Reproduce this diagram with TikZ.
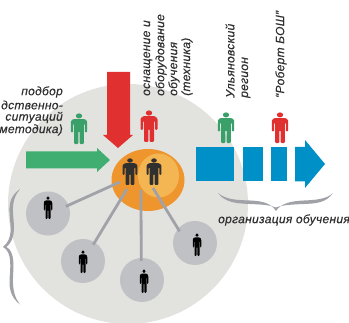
\documentclass[tikz,border=0pt]{standalone}
\usepackage{fontspec}
\usetikzlibrary{shapes.geometric}
\setmainfont{Liberation Sans}
\newfontfamily\labfont[LetterSpace=2.5,ItalicFeatures={FakeBold=0.35}]{Liberation Sans}
\definecolor{bggray}{HTML}{E2E3DF}
\definecolor{disc}{HTML}{C0C1C5}
\definecolor{orangeA}{HTML}{EE962D}
\definecolor{orangeB}{HTML}{F4B653}
\definecolor{greenA}{HTML}{3FAE70}
\definecolor{greenP}{HTML}{38A068}
\definecolor{redA}{HTML}{E03030}
\definecolor{blueA}{HTML}{0090C8}
\definecolor{linkgray}{HTML}{A0A2A8}
\definecolor{ink}{HTML}{303030}
\tikzset{
  disc node/.style={circle,fill=disc,draw=none,minimum size=44pt,inner sep=0pt},
  link/.style={draw=linkgray,line width=2.8pt,shorten <=-3pt},
  lab/.style={font=\labfont\fontsize{12}{12.8}\selectfont\itshape,text=ink,inner sep=0pt},
  vlab/.style={lab,rotate=90,anchor=west},
  brace shape/.style={fill=linkgray,draw=none},
  pics/person/.style={code={
    \fill[#1] (0,3) ellipse [x radius=3.2pt,y radius=2.6pt];
    \fill[#1,rounded corners=1pt] (-6,6.2) -- (6,6.2) -- (8.5,8.5) -- (8.5,20) -- (6,20) -- (6,11) -- (5,11)
      -- (5,32) -- (0.7,32) -- (0.7,19) -- (-0.7,19) -- (-0.7,32) -- (-5,32) -- (-5,11) -- (-6,11)
      -- (-6,20) -- (-8.5,20) -- (-8.5,8.5) -- cycle;
  }}
}
\begin{document}
\begin{tikzpicture}[x=1pt,y=-1pt]
\useasboundingbox (0,0) rectangle (349,323);
\clip (0,0) rectangle (349,323);
% background disc
\fill[bggray] (128,204) circle (120pt);
% discs with people
\node[disc node] (c1) at (48,213.5) {};
\node[disc node] (c2) at (83,261) {};
\node[disc node] (c3) at (142,280) {};
\node[disc node] (c4) at (195,243) {};
% orange group
\node[ellipse,fill=orangeA,minimum width=73pt,minimum height=62pt,inner sep=0pt] (grp) at (148,180) {};
\node[ellipse,fill=orangeB,minimum width=41pt,minimum height=44pt,inner sep=0pt] (sub) at (158.5,175.5) {};
\coordinate (e1) at (120,182);
\coordinate (e2) at (127,189);
\coordinate (e3) at (141,190);
\coordinate (e4) at (153,188);
\draw[link] (c1.22) -- (e1);
\draw[link] (c2.58) -- (e2);
\draw[link] (c3.92) -- (e3);
\draw[link] (c4.140) -- (e4);
% arrows
\fill[redA] (107,72) -- (130,72) -- (130,135) -- (133,135) -- (118,148) -- (103,135) -- (107,135) -- cycle;
\fill[greenA] (26,151.5) -- (97,151.5) -- (97,148) -- (110,160) -- (97,172) -- (97,168.5) -- (26,168.5) -- cycle;
% blue bar
\fill[blueA] (196,147) rectangle (234,181.5);
\fill[blueA] (242.5,147) rectangle (263,181.5);
\fill[blueA] (271,147) rectangle (287,181.5);
\fill[blueA] (295,147) -- (305,147) -- (305,140) -- (325,164) -- (305,188) -- (305,181.5) -- (295,181.5) -- cycle;
% people
\pic[scale=.97] at (79,113) {person=greenP};
\pic[scale=1] at (149,110) {person=redA};
\pic[scale=.97] at (226,112) {person=greenP};
\pic[scale=.97] at (280,112) {person=redA};
\pic[xscale=.88,yscale=.84] at (130,158) {person=ink};
\pic[xscale=.88,yscale=.84] at (154,158) {person=ink};
\pic[xscale=.5,yscale=.72] at (48,196) {person=black};
\pic[xscale=.5,yscale=.72] at (83,250) {person=black};
\pic[xscale=.5,yscale=.75] at (144,269) {person=black};
\pic[xscale=.5,yscale=.72] at (197,233) {person=black};
% braces
\fill[brace shape] (20,189) .. controls (12,195) and (9,201) .. (9.5,212)
  .. controls (10,225) and (14,238) .. (3,247)
  .. controls (13,252) and (10,270) .. (9.5,280)
  .. controls (9,292) and (13,299) .. (20,304.5)
  .. controls (15,298) and (12.5,290) .. (13,278)
  .. controls (13.5,265) and (15,252) .. (6.5,247)
  .. controls (17,238) and (13.5,224) .. (13,212)
  .. controls (12.5,202) and (15,195) .. (20,189) -- cycle;
\fill[brace shape] (218,193) .. controls (226,200) and (238,200) .. (250,200.5)
  .. controls (262,201) and (271,203) .. (276,211)
  .. controls (281,203) and (292,201) .. (304,200.5)
  .. controls (316,200) and (327,199) .. (333,193)
  .. controls (326,203) and (316,203.5) .. (304,204)
  .. controls (292,204.5) and (282,205) .. (276,207.5)
  .. controls (270,205) and (262,204.5) .. (250,204)
  .. controls (238,203.5) and (225,203) .. (218,193) -- cycle;
% labels
\node[lab,anchor=east] (t1) at (63,92) {подбор};
\node[lab,anchor=east] (t2) at (63,105) {дственно-};
\node[lab,anchor=east] (t3) at (63,117.5) {ситуаций};
\node[lab,anchor=east] (t4) at (63,130) {методика)};
\node[vlab] (o1) at (148,96) {оснащение и};
\node[vlab] (o2) at (161,96) {оборудование};
\node[vlab] (o3) at (174,96) {обучения};
\node[vlab] (o4) at (187,96) {(техника)};
\node[vlab] (u1) at (230,98) {Ульяновский};
\node[vlab] (u2) at (246,98) {регион};
\node[vlab] (r1) at (281,98) {“Роберт БОШ”};
\node[lab,anchor=west] (org) at (218,220) {организация обучения};
\end{tikzpicture}
\end{document}
